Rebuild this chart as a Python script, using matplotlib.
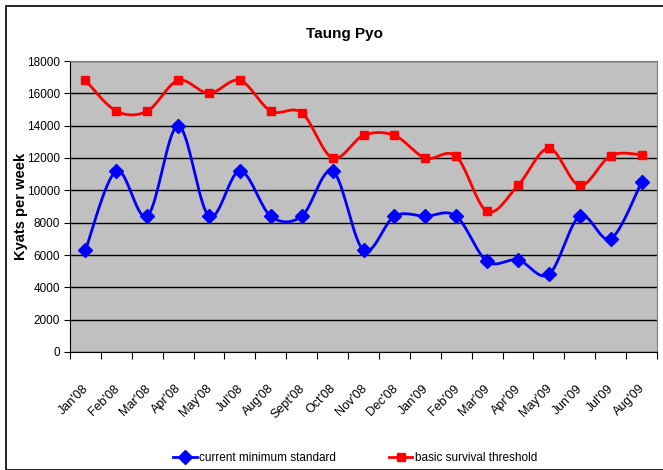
import numpy as np
import matplotlib
matplotlib.use("Agg")
import matplotlib.pyplot as plt
from matplotlib.patches import Rectangle
from matplotlib.transforms import ScaledTranslation

plt.rcParams['font.family'] = ['Liberation Sans Narrow', 'Liberation Sans', 'DejaVu Sans']

# monthly values in Kyats per week
months = ["Jan'08", "Feb'08", "Mar'08", "Apr'08", "May'08", "Jul'08", "Aug'08",
          "Sept'08", "Oct'08", "Nov'08", "Dec'08", "Jan'09", "Feb'09", "Mar'09",
          "Apr'09", "May'09", "Jun'09", "Jul'09", "Aug'09"]
current_min = [6300, 11200, 8400, 14000, 8400, 11200, 8400, 8400, 11200, 6300,
               8400, 8400, 8400, 5600, 5700, 4800, 8400, 7000, 10500]
survival = [16800, 14900, 14900, 16800, 16000, 16800, 14900, 14800, 12000, 13400,
            13400, 12000, 12100, 8700, 10300, 12600, 10300, 12150, 12200]


def smooth(xs, ys, n=20):
    # cardinal spline through the points, like the spreadsheet "smoothed line"
    xs = np.asarray(xs, float)
    ys = np.asarray(ys, float)
    px = np.concatenate([[xs[0]], xs, [xs[-1]]])
    py = np.concatenate([[ys[0]], ys, [ys[-1]]])
    k = 1 / 6
    out_x, out_y = [], []
    for i in range(1, len(px) - 2):
        p0 = np.array([px[i], py[i]])
        p3 = np.array([px[i + 1], py[i + 1]])
        c1 = p0 + k * (p3 - np.array([px[i - 1], py[i - 1]]))
        c2 = p3 - k * (np.array([px[i + 2], py[i + 2]]) - p0)
        t = np.linspace(0, 1, n)[:, None]
        b = (1 - t) ** 3 * p0 + 3 * (1 - t) ** 2 * t * c1 + 3 * (1 - t) * t ** 2 * c2 + t ** 3 * p3
        out_x.extend(b[:, 0])
        out_y.extend(b[:, 1])
    return out_x, out_y


fig = plt.figure(figsize=(6.63, 4.70), dpi=100)
fig.patches.append(Rectangle((6 / 663, 0), 1, 1 - 6 / 470, transform=fig.transFigure,
                             fill=False, edgecolor='black', linewidth=1.2))

ax = fig.add_axes([70 / 663, 1 - 352 / 470, 587 / 663, 291 / 470])
ax.set_facecolor('#c0c0c0')

x = np.arange(len(months))
sx, sy = smooth(x, current_min)
ax.plot(sx, sy, color='#0000ff', linewidth=2, zorder=3)
ax.plot(x, current_min, linestyle='none', marker='D', markersize=7,
        color='#0000ff', zorder=4)
rx, ry = smooth(x, survival)
ax.plot(rx, ry, color='#ff0000', linewidth=2, zorder=3)
ax.plot(x, survival, linestyle='none', marker='s', markersize=5.5,
        color='#ff0000', zorder=4)

ax.set_xlim(-0.5, len(months) - 0.5)
ax.set_ylim(0, 18000)
ax.set_yticks(np.arange(0, 18001, 2000))
ax.yaxis.grid(True, color='black', linewidth=1)
ax.set_axisbelow(True)
ax.tick_params(axis='y', labelsize=8.5, length=4, direction='out', pad=3)

ax.set_xticks(np.arange(-0.5, len(months), 1))
ax.set_xticklabels([])
ax.set_xticks(x, minor=True)
ax.set_xticklabels(months, minor=True, rotation=45, ha='right', rotation_mode='anchor',
                   fontsize=9)
ax.tick_params(axis='x', which='major', length=5, direction='out')
ax.tick_params(axis='x', which='minor', length=0, pad=22)
shift = ScaledTranslation(-3 / 100, 0, fig.dpi_scale_trans)
for lbl in ax.get_xticklabels(minor=True):
    lbl.set_transform(lbl.get_transform() + shift)

for side in ['top', 'right']:
    ax.spines[side].set_color('#808080')
ax.spines['left'].set_color('black')
ax.spines['bottom'].set_color('black')

ax.set_ylabel('Kyats per week', fontsize=10.5, fontweight='bold')
ax.yaxis.set_label_coords(-42 / 587, 0.5)
fig.text(345 / 663, 1 - 34 / 470, 'Taung Pyo', ha='center', va='center',
         fontsize=11, fontweight='bold')

h1, = ax.plot([], [], color='#0000ff', marker='D', markersize=7, linewidth=2)
h2, = ax.plot([], [], color='#ff0000', marker='s', markersize=5.5, linewidth=2)
fig.legend([h1, h2], ['current minimum standard', 'basic survival threshold'],
           loc='center', bbox_to_anchor=(355 / 663, 1 - 458 / 470), ncol=2,
           frameon=False, fontsize=8.5, handlelength=2.0, columnspacing=4.5,
           handletextpad=0.2)

fig.savefig('out.png', dpi=100)
